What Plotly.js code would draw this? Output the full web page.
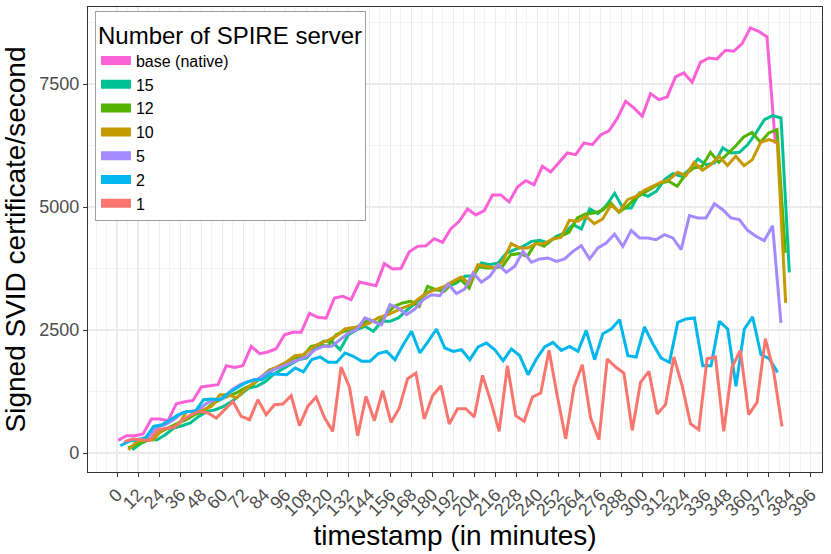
<!DOCTYPE html>
<html>
<head>
<meta charset="utf-8">
<script src="https://cdn.plot.ly/plotly-3.0.1.min.js"></script>
<style>
  html, body { margin: 0; padding: 0; background: #fff; }
  #chart { width: 831px; height: 554px; }
</style>
</head>
<body>
<div id="chart"></div>
<script>
// minutes elapsed since each run's first sample (one sample every 4.75 min)
const elapsedMin = [
    0, 4.75, 9.5, 14.25, 19, 23.75, 28.5, 33.25, 38, 42.75,
    47.5, 52.25, 57, 61.75, 66.5, 71.25, 76, 80.75, 85.5, 90.25,
    95, 99.75, 104.5, 109.25, 114, 118.75, 123.5, 128.25, 133, 137.75,
    142.5, 147.25, 152, 156.75, 161.5, 166.25, 171, 175.75, 180.5, 185.25,
    190, 194.75, 199.5, 204.25, 209, 213.75, 218.5, 223.25, 228, 232.75,
    237.5, 242.25, 247, 251.75, 256.5, 261.25, 266, 270.75, 275.5, 280.25,
    285, 289.75, 294.5, 299.25, 304, 308.75, 313.5, 318.25, 323, 327.75,
    332.5, 337.25, 342, 346.75, 351.5, 356.25, 361, 365.75, 370.5, 375.25
];

const seriesNames = ['base (native)', '15', '12', '10', '5', '2', '1'];
const seriesColors = ['#FB61D7', '#00C094', '#53B400', '#C49A00', '#A58AFF', '#00B6EB', '#F8766D'];
// timestamp (minutes) of the first sample of each run
const runStartMin = [0.6, 8.6, 6.3, 6.5, 3.8, 1.9, 4.4];

const base = [
    256, 352, 352, 386, 691, 691, 657, 1002, 1043, 1070,
    1342, 1368, 1389, 1775, 1741, 1775, 2167, 2019, 2053, 2120,
    2405, 2452, 2452, 2840, 2757, 2740, 3151, 3184, 3117, 3476,
    3442, 3401, 3849, 3741, 3750, 4090, 4200, 4214, 4357, 4282,
    4560, 4709, 4961, 4839, 4926, 5245, 5245, 5103, 5408, 5536,
    5455, 5827, 5713, 5896, 6099, 6065, 6302, 6268, 6465, 6548,
    6800, 7148, 7014, 6843, 7305, 7183, 7237, 7644, 7725, 7535,
    7941, 8030, 8010, 8185, 8165, 8321, 8641, 8572, 8458, 6288
];
const servers15 = [
    67, 189, 270, 270, 372, 508, 555, 610, 744, 846,
    880, 948, 1049, 1185, 1321, 1354, 1450, 1600, 1700, 1790,
    1897, 1931, 2134, 2270, 2270, 2100, 2405, 2507, 2575, 2473,
    2676, 2676, 2745, 2900, 3050, 3184, 3320, 3320, 3387, 3456,
    3591, 3604, 3862, 3828, 3862, 4066, 4133, 4200, 4302, 4322,
    4269, 4404, 4473, 4641, 4554, 4961, 4865, 5028, 5280, 4981,
    4981, 5286, 5217, 5319, 5556, 5678, 5624, 5760, 5977, 5861,
    5896, 6201, 6099, 6112, 6268, 6506, 6776, 6857, 6810, 3672
];
const servers12 = [
    102, 169, 236, 305, 440, 528, 610, 677, 779, 846,
    982, 1083, 1151, 1220, 1321, 1389, 1540, 1690, 1740, 1830,
    1931, 1965, 2168, 2202, 2168, 2405, 2473, 2507, 2608, 2710,
    2643, 2812, 2981, 3050, 3083, 2981, 3387, 3320, 3286, 3456,
    3523, 3354, 3794, 3761, 3761, 3794, 4031, 4052, 3997, 4269,
    4200, 4350, 4404, 4485, 4777, 4858, 4879, 4932, 5090, 4892,
    5014, 5184, 5286, 5388, 5489, 5522, 5420, 5658, 5794, 5827,
    6112, 5908, 6065, 6234, 6424, 6518, 6315, 6506, 6573, 4066
];
const servers10 = [
    67, 236, 270, 270, 474, 508, 575, 846, 846, 880,
    948, 1185, 1185, 1118, 1287, 1423, 1560, 1680, 1760, 1850,
    1978, 1998, 2134, 2230, 2290, 2380, 2520, 2554, 2575, 2643,
    2745, 2800, 2879, 2948, 3015, 3151, 3265, 3320, 3387, 3489,
    3578, 3442, 3828, 3794, 3761, 3896, 4255, 4168, 4168, 4255,
    4255, 4350, 4383, 4729, 4709, 4810, 4662, 4757, 5040, 4900,
    5150, 5217, 5339, 5420, 5502, 5556, 5705, 5638, 5908, 5746,
    5861, 6030, 5841, 6030, 5841, 5963, 6315, 6370, 6315, 3050
];
const servers5 = [
    200, 270, 280, 338, 528, 575, 677, 813, 846, 880,
    1016, 1083, 1118, 1287, 1389, 1456, 1490, 1600, 1690, 1760,
    1830, 1900, 1965, 2100, 2168, 2168, 2300, 2440, 2507, 2745,
    2676, 2608, 3015, 2948, 2812, 2927, 3117, 3218, 3198, 3436,
    3239, 3334, 3659, 3469, 3591, 3828, 3672, 3794, 4099, 3876,
    3944, 3964, 3896, 3944, 4099, 4214, 3944, 4168, 4269, 4450,
    4200, 4526, 4371, 4371, 4336, 4438, 4371, 4133, 4824, 4777,
    4777, 5068, 4946, 4777, 4743, 4526, 4404, 4316, 4621, 2643
];
const servers2 = [
    148, 236, 270, 305, 541, 575, 677, 779, 846, 846,
    1083, 1097, 1083, 1220, 1321, 1423, 1490, 1490, 1612, 1606,
    1592, 1728, 1650, 1900, 1952, 1843, 1843, 2033, 1965, 1863,
    1863, 2019, 2066, 1897, 2202, 2473, 2033, 2270, 2520, 2134,
    2066, 2100, 1897, 2155, 2236, 2100, 1876, 2114, 1978, 1592,
    1911, 2155, 2249, 2086, 2167, 2066, 2493, 1897, 2425, 2520,
    2710, 1978, 1952, 2561, 2222, 1931, 1843, 2656, 2724, 2744,
    1775, 1775, 2676, 2520, 1354, 2520, 2765, 1998, 1917, 1639
];
const servers1 = [
    236, 284, 270, 256, 474, 508, 528, 677, 779, 846,
    813, 711, 880, 1049, 744, 677, 1083, 779, 982, 996,
    1165, 555, 947, 1138, 720, 440, 1748, 1342, 352, 1151,
    657, 1267, 622, 915, 1511, 1626, 691, 1165, 1368, 589,
    901, 901, 732, 1578, 1049, 440, 1775, 758, 643, 1138,
    1220, 2086, 1150, 291, 1342, 1795, 711, 270, 1911, 1748,
    1626, 460, 1436, 1659, 793, 982, 1952, 1368, 596, 474,
    1917, 1952, 440, 1748, 2086, 779, 1029, 2324, 1659, 541
];

const seriesValues = [base, servers15, servers12, servers10, servers5, servers2, servers1];
const xTicks = [0, 12, 24, 36, 48, 60, 72, 84, 96, 108, 120, 132, 144, 156, 168, 180, 192,
    204, 216, 228, 240, 252, 264, 276, 288, 300, 312, 324, 336, 348, 360, 372, 384, 396];
const yTicks = [0, 2500, 5000, 7500];

const FONT = '"Liberation Sans", Arial, Helvetica, sans-serif';
const GRID = '#EBEBEB';
const INK = '#333333';

const traces = [];
// the data lines
seriesNames.forEach((name, i) => {
    traces.push({
        type: 'scatter',
        mode: 'lines',
        name: name,
        legendgroup: name,
        showlegend: false,
        x: elapsedMin.map(m => runStartMin[i] + m),
        y: seriesValues[i],
        line: { color: seriesColors[i], width: 3 },
        hoverinfo: 'skip'
    });
});
// legend-only entries with thick keys (ggplot style rectangles)
seriesNames.forEach((name, i) => {
    traces.push({
        type: 'scatter',
        mode: 'lines',
        name: name,
        legendgroup: name,
        x: [null],
        y: [null],
        line: { color: seriesColors[i], width: 9 }
    });
});

const layout = {
    width: 831,
    height: 554,
    margin: { l: 88, r: 9, t: 7, b: 82 },
    paper_bgcolor: '#ffffff',
    plot_bgcolor: '#ffffff',
    font: { family: FONT, color: '#000000' },
    showlegend: true,
    legend: {
        x: 0.0095,
        y: 0.9905,
        xanchor: 'left',
        yanchor: 'top',
        bgcolor: '#ffffff',
        bordercolor: '#A0A0A0',
        borderwidth: 1,
        tracegroupgap: 0,
        font: { family: FONT, size: 16, color: '#000000' },
        title: { text: 'Number of SPIRE server', font: { family: FONT, size: 24, color: '#000000' } }
    },
    xaxis: {
        range: [-16.6, 402.5],
        tickmode: 'array',
        tickvals: xTicks,
        ticktext: xTicks.map(String),
        tickangle: -45,
        ticks: 'outside',
        ticklen: 4,
        tickcolor: INK,
        tickfont: { family: FONT, size: 18, color: '#4D4D4D' },
        showgrid: true,
        gridcolor: GRID,
        gridwidth: 1.2,
        minor: { dtick: 6, tick0: 0, showgrid: true, gridcolor: GRID, gridwidth: 0.6, ticks: '' },
        zeroline: false,
        showline: true,
        mirror: true,
        linecolor: INK,
        linewidth: 1.2,
        automargin: false,
        title: { text: 'timestamp (in minutes)', font: { family: FONT, size: 28, color: '#000000' }, standoff: 0 }
    },
    yaxis: {
        range: [-386, 9065],
        tickmode: 'array',
        tickvals: yTicks,
        ticktext: yTicks.map(String),
        ticks: 'outside',
        ticklen: 4,
        tickcolor: INK,
        tickfont: { family: FONT, size: 18, color: '#4D4D4D' },
        showgrid: true,
        gridcolor: GRID,
        gridwidth: 1.2,
        minor: { dtick: 1250, tick0: 0, showgrid: true, gridcolor: GRID, gridwidth: 0.6, ticks: '' },
        zeroline: false,
        showline: true,
        mirror: true,
        linecolor: INK,
        linewidth: 1.2,
        automargin: false,
        title: { text: 'Signed SVID certificate/second', font: { family: FONT, size: 28, color: '#000000' }, standoff: 6 }
    }
};

Plotly.newPlot('chart', traces, layout, { displayModeBar: false, responsive: false, staticPlot: true });
</script>
</body>
</html>
